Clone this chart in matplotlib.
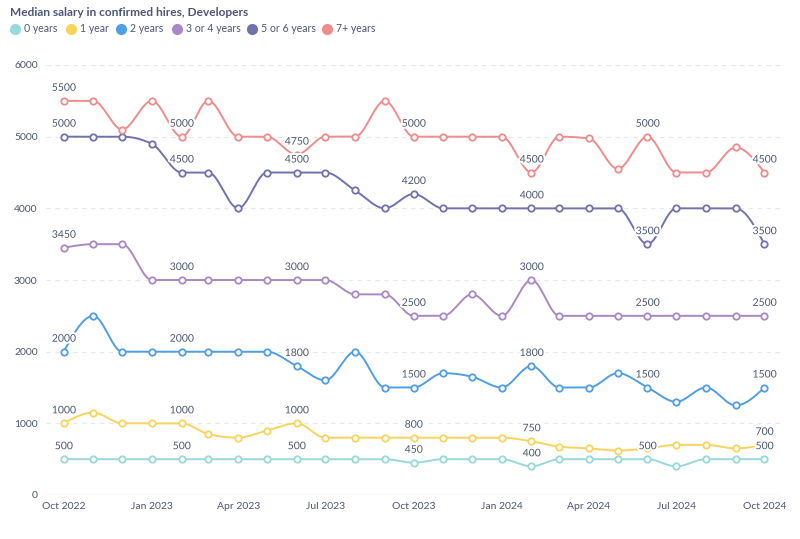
import numpy as np
import pandas as pd
import matplotlib
matplotlib.use("Agg")
import matplotlib.pyplot as plt
import matplotlib.dates as mdates
import matplotlib.patheffects as pe

plt.rcParams['font.family'] = ['Lato', 'DejaVu Sans']

dates = pd.date_range("2022-10-01", "2024-10-01", freq="MS")

series_names = ["0 years", "1 year", "2 years", "3 or 4 years", "5 or 6 years", "7+ years"]
years_0 = [500, 500, 500, 500, 500, 500, 500, 500, 500, 500, 500, 500, 450,
           500, 500, 500, 400, 500, 500, 500, 500, 400, 500, 500, 500]
years_1 = [1000, 1150, 1000, 1000, 1000, 850, 800, 900, 1000, 800, 800, 800, 800,
           800, 800, 800, 750, 675, 650, 620, 650, 700, 700, 650, 700]
years_2 = [2000, 2500, 2000, 2000, 2000, 2000, 2000, 2000, 1800, 1600, 2000, 1500, 1500,
           1700, 1650, 1500, 1800, 1500, 1500, 1700, 1500, 1300, 1500, 1250, 1500]
years_3_4 = [3450, 3500, 3500, 3000, 3000, 3000, 3000, 3000, 3000, 3000, 2800, 2800, 2500,
             2500, 2800, 2500, 3000, 2500, 2500, 2500, 2500, 2500, 2500, 2500, 2500]
years_5_6 = [5000, 5000, 5000, 4900, 4500, 4500, 4000, 4500, 4500, 4500, 4250, 4000, 4200,
             4000, 4000, 4000, 4000, 4000, 4000, 4000, 3500, 4000, 4000, 4000, 3500]
years_7p = [5500, 5500, 5100, 5500, 5000, 5500, 5000, 5000, 4750, 5000, 5000, 5500, 5000,
            5000, 5000, 5000, 4500, 5000, 4975, 4550, 5000, 4500, 4500, 4850, 4500]

all_series = [years_0, years_1, years_2, years_3_4, years_5_6, years_7p]
colors = ["#98D9D9", "#F9D45C", "#509EE3", "#A989C5", "#7172AD", "#EF8C8C"]
label_idx = [0, 4, 8, 12, 16, 20, 24]
skip_labels = {1: [20]}


def monotone(x, y, xs):
    x = np.asarray(x, float); y = np.asarray(y, float)
    n = len(x)
    h = np.diff(x); d = np.diff(y) / h
    m = np.zeros(n)
    for k in range(1, n - 1):
        if d[k - 1] * d[k] <= 0:
            m[k] = 0.0
        else:
            s = (d[k - 1] * h[k] + d[k] * h[k - 1]) / (h[k - 1] + h[k])
            m[k] = (np.sign(d[k - 1]) + np.sign(d[k])) * min(abs(d[k - 1]), abs(d[k]), 0.5 * abs(s))
    m[0] = (3 * d[0] - m[1]) / 2
    m[-1] = (3 * d[-1] - m[-2]) / 2
    idx = np.clip(np.searchsorted(x, xs) - 1, 0, n - 2)
    t = (xs - x[idx]) / h[idx]
    h00 = 2 * t**3 - 3 * t**2 + 1
    h10 = t**3 - 2 * t**2 + t
    h01 = -2 * t**3 + 3 * t**2
    h11 = t**3 - t**2
    return h00 * y[idx] + h10 * h[idx] * m[idx] + h01 * y[idx + 1] + h11 * h[idx] * m[idx + 1]


fig = plt.figure(figsize=(8, 5.39), dpi=100)
ax = fig.add_axes([46 / 800, (539 - 495) / 539, 734 / 800, 430 / 539])

xnum = mdates.date2num(dates)
xs = np.linspace(xnum[0], xnum[-1], 2000)

for si, (vals, col) in enumerate(zip(all_series, colors)):
    ys = monotone(xnum, vals, xs)
    ax.plot(xs, ys, color=col, lw=1.4, zorder=3, solid_capstyle='round')
    ax.plot(xnum, vals, ls='none', marker='o', ms=4.6, mfc='white', mec=col, mew=1.3, zorder=4)
    for i in label_idx:
        if i in skip_labels.get(si, []):
            continue
        ax.annotate(f"{vals[i]}", (xnum[i], vals[i]), xytext=(0, 9), textcoords='offset points',
                    ha='center', va='center', fontsize=7.5, color='#4C5773', zorder=5,
                    path_effects=[pe.withStroke(linewidth=3, foreground='white')])

ax.set_xlim(xnum[0] - 17.7 / 0.9603, xnum[-1] + 15.6 / 0.9603)
ax.set_ylim(0, 6000)
ax.set_yticks([0, 1000, 2000, 3000, 4000, 5000, 6000])
ax.xaxis.set_major_locator(mdates.MonthLocator(bymonth=[1, 4, 7, 10]))
ax.xaxis.set_major_formatter(mdates.DateFormatter('%b %Y'))
for s in ax.spines.values():
    s.set_visible(False)
ax.grid(axis='y', color='#E6E8EB', ls=(0, (4, 4)), lw=0.8, zorder=0)
ax.axhline(0, color='#E6E8EB', lw=1, zorder=1)
ax.tick_params(axis='both', length=0, labelsize=7.5)
ax.tick_params(axis='y', colors='#4C5773', pad=6)
ax.tick_params(axis='x', colors='#4C5773', pad=5)

fig.text(10 / 800, 1 - 12 / 539, "Median salary in confirmed hires, Developers", fontsize=8.6,
         fontweight='bold', color='#4C5773', ha='left', va='center')

ov = fig.add_axes([0, 0, 1, 1], facecolor='none')
ov.set_xlim(0, 800); ov.set_ylim(539, 0); ov.axis('off')
leg_x = [15, 71, 121, 177, 252, 327]
for lx, name, col in zip(leg_x, series_names, colors):
    ov.plot([lx], [28.5], marker='o', ms=7, color=col, ls='none')
    ov.text(lx + 9, 28.5, name, fontsize=7.6, color='#4C5773', ha='left', va='center')

fig.savefig("out.png", dpi=100)
